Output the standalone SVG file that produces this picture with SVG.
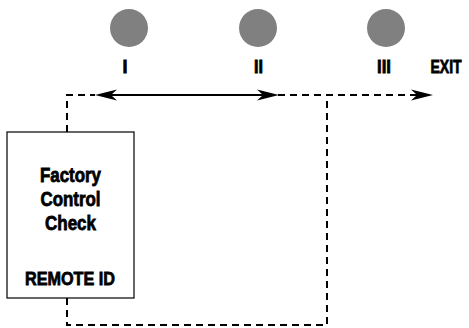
<svg xmlns="http://www.w3.org/2000/svg" width="469" height="328" viewBox="0 0 469 328">
<style>
.lbl{font-family:"Liberation Sans",Arial,sans-serif;font-weight:bold;fill:#000;stroke:#000;stroke-width:0.8;text-anchor:middle}
.dash{fill:none;stroke:#000;stroke-width:2;stroke-dasharray:7,5}
.solid{fill:none;stroke:#000;stroke-width:2}
.st{fill:#808080}
</style>
<defs>
<path id="ahR" d="M0,0 L-22,-5.5 L-16,0 L-22,5.5 Z"/>
</defs>
<g id="station-I"><circle class="st" cx="129" cy="28" r="19"/><text class="lbl" x="125" y="73" font-size="19" textLength="5" lengthAdjust="spacingAndGlyphs">I</text></g>
<g id="station-II"><circle class="st" cx="258" cy="28" r="19"/><text class="lbl" x="258.5" y="73" font-size="19" textLength="9" lengthAdjust="spacingAndGlyphs">II</text></g>
<g id="station-III"><circle class="st" cx="386" cy="28" r="19"/><text class="lbl" x="384" y="73" font-size="19" textLength="14" lengthAdjust="spacingAndGlyphs">III</text></g>
<g id="exit"><text class="lbl" transform="translate(446,73) scale(0.74,1)" x="0" y="0" font-size="19">EXIT</text></g>
<g id="factory-check">
<rect x="7" y="132" width="127" height="166" fill="#fff" stroke="#000" stroke-width="1.2"/>
<text class="lbl" x="70.5" y="182" font-size="20" textLength="61" lengthAdjust="spacingAndGlyphs">Factory</text>
<text class="lbl" x="70.5" y="206" font-size="20" textLength="60" lengthAdjust="spacingAndGlyphs">Control</text>
<text class="lbl" x="70.5" y="230" font-size="20" textLength="51" lengthAdjust="spacingAndGlyphs">Check</text>
<text class="lbl" x="70" y="285" font-size="19" textLength="90" lengthAdjust="spacingAndGlyphs">REMOTE ID</text>
</g>
<g id="connectors">
<path class="dash" d="M67,132 V95 H95"/>
<path class="solid" d="M100,95 H272"/>
<path class="dash" d="M278,95 H425"/>
<path class="dash" d="M67,298 V325 H327 V95"/>
<use href="#ahR" transform="translate(95,95) rotate(180)"/>
<use href="#ahR" transform="translate(279,95)"/>
<use href="#ahR" transform="translate(433,95)"/>
</g>
</svg>
